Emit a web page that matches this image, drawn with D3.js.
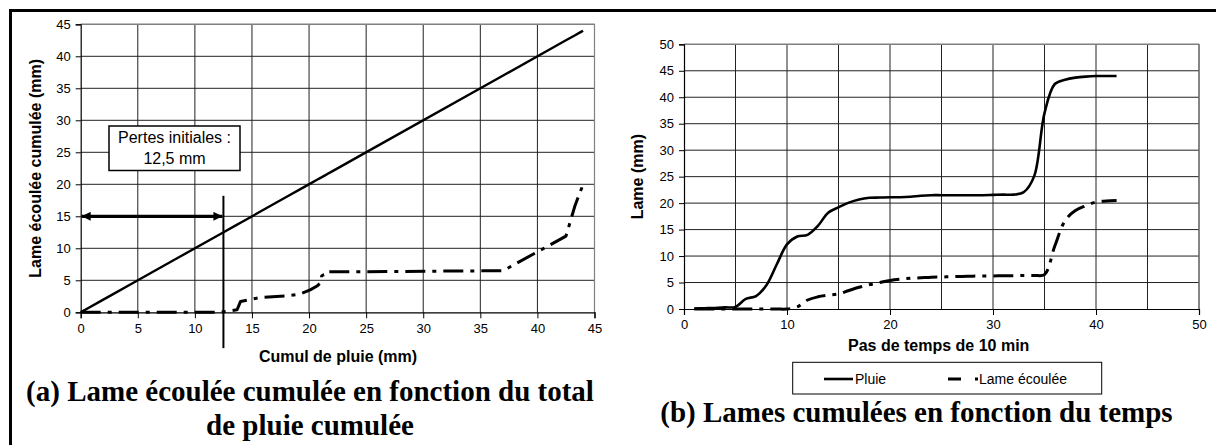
<!DOCTYPE html>
<html>
<head>
<meta charset="utf-8">
<script src="https://cdn.jsdelivr.net/npm/d3@7"></script>
<style>
  body { margin: 0; background: #fff; }
  svg text { font-family: "Liberation Sans", Arial, sans-serif; fill: #000; }
  svg text.serif { font-family: "Liberation Serif", "Times New Roman", serif; font-weight: bold; }
</style>
</head>
<body>
<svg id="fig" width="1216" height="445"></svg>
<script>
// Time steps (10 min each) and cumulated depths in mm
const steps = d3.range(1, 43);
const pluie = [0.1, 0.15, 0.2, 0.3, 0.4, 1.9, 2.45, 4.5, 8.4, 12.2,
               13.7, 14.0, 15.7, 18.2, 19.2, 20.1, 20.7, 21.0, 21.05, 21.1,
               21.1, 21.2, 21.4, 21.5, 21.5, 21.5, 21.5, 21.5, 21.5, 21.55,
               21.6, 21.6, 22.1, 25.1, 37.0, 42.5, 43.3, 43.7, 43.9, 44.0,
               44.0, 44.0];
const lame  = [0, 0, 0, 0, 0, 0, 0, 0, 0, 0,
               0.4, 1.7, 2.3, 2.6, 2.85, 3.5, 4.1, 4.6, 5.0, 5.4,
               5.65, 5.8, 5.9, 6.0, 6.05, 6.1, 6.15, 6.2, 6.25, 6.25,
               6.3, 6.3, 6.35, 6.35, 6.5, 11.9, 16.7, 18.6, 19.5, 20.2,
               20.4, 20.5];
const pertesInitiales = 12.5;          // mm, initial losses
const ticksA = d3.range(0, 46, 5);     // panel (a), both axes
const ticksBy = d3.range(0, 51, 5);    // panel (b), y axis
const ticksBx = d3.range(0, 51, 10);   // panel (b), x axis labels
const gridBx = d3.range(0, 51, 5);     // panel (b), vertical grid
const seriesNames = ["Pluie", "Lame écoulée"];

const svg = d3.select("#fig");
const DASH = "20,7,4,7";

// outer frame (top and left rules)
svg.append("line").attr("x1", 9).attr("x2", 1216).attr("y1", 10.5).attr("y2", 10.5)
  .attr("stroke", "#000").attr("stroke-width", 3);
svg.append("line").attr("x1", 10.5).attr("x2", 10.5).attr("y1", 9).attr("y2", 445)
  .attr("stroke", "#000").attr("stroke-width", 3);

const defs = svg.append("defs");
defs.append("marker").attr("id", "arrow").attr("viewBox", "0 0 10 10")
  .attr("refX", 10).attr("refY", 5).attr("markerUnits", "userSpaceOnUse")
  .attr("markerWidth", 11).attr("markerHeight", 9).attr("orient", "auto-start-reverse")
  .append("path").attr("d", "M0,0 L10,5 L0,10 Z").attr("fill", "#000");

function grid(g, x, y, xs, ys) {
  g.append("g").selectAll("line").data(xs.filter(v => v > x.domain()[0]))
    .join("line").attr("x1", d => x(d)).attr("x2", d => x(d))
    .attr("y1", y.range()[0]).attr("y2", y.range()[1])
    .attr("stroke", "#222").attr("stroke-width", 1);
  g.append("g").selectAll("line").data(ys.filter(v => v > y.domain()[0]))
    .join("line").attr("y1", d => y(d)).attr("y2", d => y(d))
    .attr("x1", x.range()[0]).attr("x2", x.range()[1])
    .attr("stroke", "#222").attr("stroke-width", 1);
  // plot-area border on top and right
  g.append("path")
    .attr("d", `M${x.range()[0]},${y.range()[1]}H${x.range()[1]}V${y.range()[0]}`)
    .attr("fill", "none").attr("stroke", "#808080").attr("stroke-width", 1.2);
}

function axes(g, x, y, xt, yt) {
  const ax = g.append("g").attr("transform", `translate(0,${y.range()[0]})`)
    .call(d3.axisBottom(x).tickValues(xt).tickSize(6).tickPadding(5).tickFormat(d3.format("d")));
  const ay = g.append("g").attr("transform", `translate(${x.range()[0]},0)`)
    .call(d3.axisLeft(y).tickValues(yt).tickSize(5).tickPadding(5).tickFormat(d3.format("d")));
  [ax, ay].forEach(a => {
    a.select(".domain").attr("stroke", "#000").attr("stroke-width", 1.2);
    a.selectAll(".tick line").attr("stroke", "#000");
    a.selectAll("text").attr("font-size", 13).attr("font-family", "Liberation Sans, Arial, sans-serif");
  });
}

// ---------- Panel (a): runoff depth vs cumulated rainfall ----------
const xA = d3.scaleLinear().domain([0, 45]).range([80.7, 594.5]);
const yA = d3.scaleLinear().domain([0, 45]).range([312.3, 24.3]);
const gA = svg.append("g");
grid(gA, xA, yA, ticksA, ticksA);
axes(gA, xA, yA, ticksA, ticksA);

const ptsA = [[0, 0]].concat(pluie.map((p, i) => [p, lame[i]]));
const diag = [[0, 0]].concat(pluie.map(p => [p, p]));
const lineA = d3.line().x(d => xA(d[0])).y(d => yA(d[1]));
gA.append("path").datum(diag).attr("d", lineA)
  .attr("fill", "none").attr("stroke", "#000").attr("stroke-width", 2.4);
gA.append("path").datum(ptsA).attr("d", lineA)
  .attr("fill", "none").attr("stroke", "#000").attr("stroke-width", 3)
  .attr("stroke-linejoin", "round").attr("stroke-dasharray", DASH);

// initial-losses marker
gA.append("line").attr("x1", xA(pertesInitiales)).attr("x2", xA(pertesInitiales))
  .attr("y1", yA(18.2)).attr("y2", yA(-5.6)).attr("stroke", "#000").attr("stroke-width", 2);
gA.append("line").attr("x1", xA(0) + 1).attr("x2", xA(pertesInitiales) - 1)
  .attr("y1", yA(15)).attr("y2", yA(15)).attr("stroke", "#000").attr("stroke-width", 3.2)
  .attr("marker-start", "url(#arrow)").attr("marker-end", "url(#arrow)");
gA.append("rect").attr("x", 109).attr("y", 126).attr("width", 131).attr("height", 44.5)
  .attr("fill", "#fff").attr("stroke", "#000").attr("stroke-width", 1.5);
gA.append("text").attr("x", 174.5).attr("y", 143).attr("text-anchor", "middle")
  .attr("font-size", 16).text("Pertes initiales :");
gA.append("text").attr("x", 174.5).attr("y", 164).attr("text-anchor", "middle")
  .attr("font-size", 16).text(String(pertesInitiales).replace(".", ",") + " mm");

gA.append("text").attr("x", 338).attr("y", 362).attr("text-anchor", "middle")
  .attr("font-size", 16).attr("font-weight", "bold").text("Cumul de pluie (mm)");
gA.append("text").attr("transform", `translate(41,${(yA.range()[0] + yA.range()[1]) / 2}) rotate(-90)`)
  .attr("text-anchor", "middle").attr("font-size", 16).attr("font-weight", "bold")
  .text("Lame écoulée cumulée (mm)");
gA.append("text").attr("class", "serif").attr("x", 310).attr("y", 401).attr("text-anchor", "middle")
  .attr("font-size", 29).text("(a) Lame écoulée cumulée en fonction du total");
gA.append("text").attr("class", "serif").attr("x", 310).attr("y", 435).attr("text-anchor", "middle")
  .attr("font-size", 29).text("de pluie cumulée");

// ---------- Panel (b): cumulated depths vs time ----------
const xB = d3.scaleLinear().domain([0, 50]).range([684, 1199]);
const yB = d3.scaleLinear().domain([0, 50]).range([309, 44.3]);
const gB = svg.append("g");
grid(gB, xB, yB, gridBx, ticksBy);
axes(gB, xB, yB, ticksBx, ticksBy);

const lineB = d3.line().x((d, i) => xB(steps[i])).y(d => yB(d)).curve(d3.curveCatmullRom.alpha(0.5));
gB.append("path").datum(pluie).attr("d", lineB)
  .attr("fill", "none").attr("stroke", "#000").attr("stroke-width", 2.6);
gB.append("path").datum(lame).attr("d", lineB)
  .attr("fill", "none").attr("stroke", "#000").attr("stroke-width", 3)
  .attr("stroke-dasharray", DASH);

gB.append("text").attr("x", 938.7).attr("y", 351).attr("text-anchor", "middle")
  .attr("font-size", 16).attr("font-weight", "bold").text("Pas de temps de 10 min");
gB.append("text").attr("transform", `translate(643,${(yB.range()[0] + yB.range()[1]) / 2}) rotate(-90)`)
  .attr("text-anchor", "middle").attr("font-size", 16).attr("font-weight", "bold")
  .text("Lame (mm)");

// legend
const lg = gB.append("g");
lg.append("rect").attr("x", 792.7).attr("y", 362.3).attr("width", 309).attr("height", 31.7)
  .attr("fill", "#fff").attr("stroke", "#000").attr("stroke-width", 1);
lg.append("line").attr("x1", 824).attr("x2", 853).attr("y1", 379).attr("y2", 379)
  .attr("stroke", "#000").attr("stroke-width", 2.6);
lg.append("text").attr("x", 855).attr("y", 384).attr("font-size", 14).text(seriesNames[0]);
lg.append("line").attr("x1", 948).attr("x2", 978).attr("y1", 379).attr("y2", 379)
  .attr("stroke", "#000").attr("stroke-width", 3).attr("stroke-dasharray", "13,14,3,40");
lg.append("text").attr("x", 979).attr("y", 384).attr("font-size", 14).text(seriesNames[1]);

gB.append("text").attr("class", "serif").attr("x", 916.5).attr("y", 422).attr("text-anchor", "middle")
  .attr("font-size", 29).text("(b) Lames cumulées en fonction du temps");
</script>
</body>
</html>
